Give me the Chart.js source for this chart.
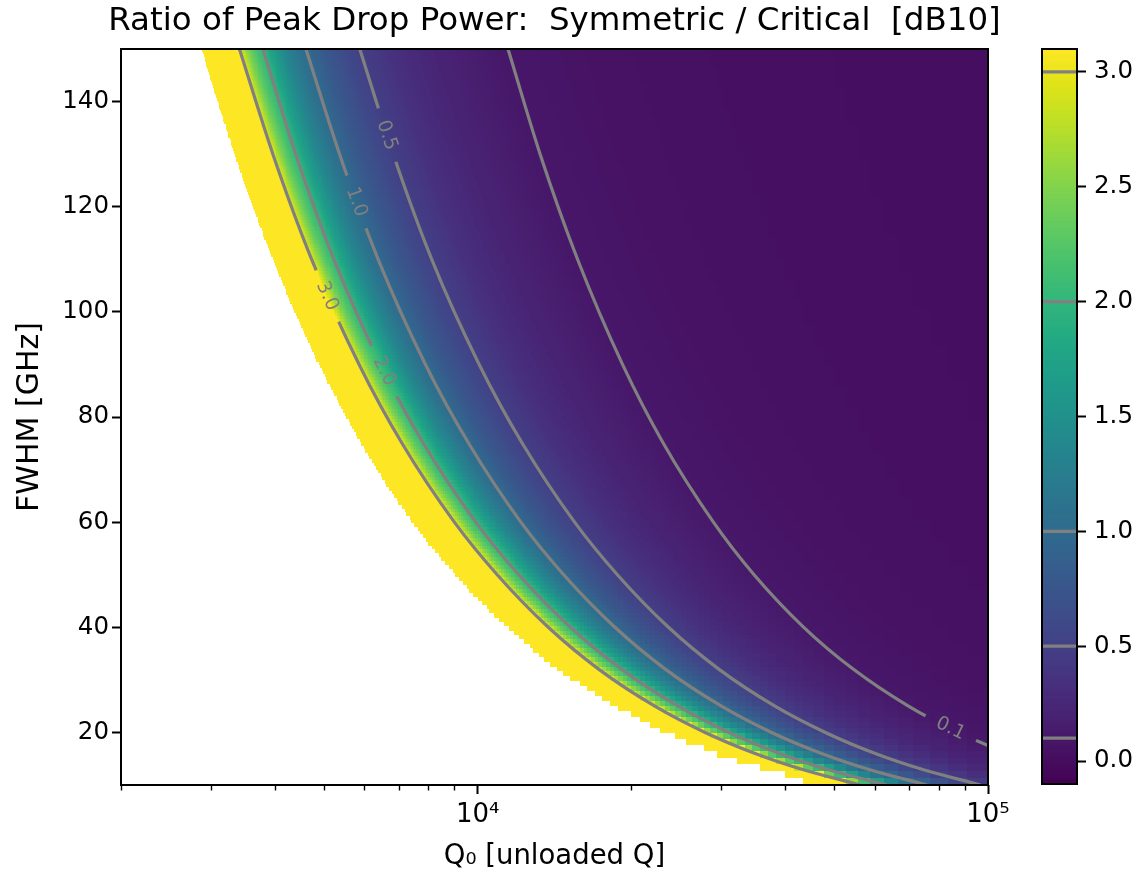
<!DOCTYPE html>
<html>
<head>
<meta charset="utf-8">
<script src="https://cdn.jsdelivr.net/npm/chart.js@4.4.1/dist/chart.umd.min.js"></script>
<style>
  body { margin: 0; background: #fff; }
  #wrap { position: relative; width: 1145px; height: 875px; }
  #main { position: absolute; left: 0; top: 0; }
  #cbar { position: absolute; left: 1000px; top: 0; }
</style>
</head>
<body>
<div id="wrap">
  <canvas id="main" width="1109" height="875"></canvas>
  <canvas id="cbar" width="145" height="875"></canvas>
</div>
<script>
const fwhmRows = [150, 130, 110, 90, 75, 60, 50, 40, 32, 25, 20, 16, 13, 10];

// Q0 where the data starts (white -> yellow edge)
const edgeQ = [2880, 3338, 3968, 4889, 5907, 7450, 9040, 11425, 14406, 18580, 23400, 29438, 36385, 47600];

// contour lines, Q0 per FWHM row
const q30 = [3413, 3969, 4727, 5856, 7107, 9000, 10920, 13750, 17281, 22240, 27900, 34969, 43154, 56200];
const q20 = [3793, 4400, 5227, 6456, 7827, 9917, 12040, 15200, 19156, 24720, 31100, 39063, 48308, 63200];
const q10 = [4607, 5362, 6382, 7900, 9600, 12150, 14740, 18575, 23344, 30040, 37650, 47188, 58231, 75900];
const q05 = [5873, 6831, 8127, 10067, 12227, 15483, 18780, 23650, 29719, 38240, 48000, 60125, 74231, 96700];
const q01 = [11467, 13254, 15691, 19222, 23107, 28967, 34800, 43550, 54500, 69840, 87400, 109375, 134692, 175200];

const contourLevels = [3.0, 2.0, 1.0, 0.5, 0.1];
const contourQ = [q30, q20, q10, q05, q01];
const labelText = ['3.0', '2.0', '1.0', '0.5', '0.1'];
const labelF = [103.0, 88.7, 120.9, 133.6, 20.7];

// ratio [dB] across a row, vs. decades of Q0 right of the 3.0 contour
const profD = [0.000, 0.006, 0.014, 0.024, 0.034, 0.046, 0.062, 0.085, 0.108, 0.130, 0.165, 0.200, 0.236, 0.300, 0.380, 0.510, 0.700, 1.000, 1.400];
const profV = [3.00, 2.80, 2.55, 2.32, 2.15, 2.00, 1.72, 1.40, 1.17, 1.00, 0.79, 0.63, 0.50, 0.34, 0.22, 0.10, 0.05, 0.025, 0.01];

const xTicks = [2000, 3000, 4000, 5000, 6000, 7000, 8000, 9000, 10000,
                20000, 30000, 40000, 50000, 60000, 70000, 80000, 90000, 100000];
const xMajor = [10000, 100000];
const yTicks = [20, 40, 60, 80, 100, 120, 140];
const cbTicks = [0.0, 0.5, 1.0, 1.5, 2.0, 2.5, 3.0];
const cbMin = -0.1, cbMax = 3.1;

const viridis = ['#440154', '#471365', '#482475', '#463480', '#414487', '#3b528b', '#355f8d',
                 '#2f6c8e', '#2a788e', '#25848e', '#21918c', '#1e9c89', '#22a884', '#2fb47c',
                 '#44bf70', '#5ec962', '#7ad151', '#9bd93c', '#bddf26', '#dfe318', '#fde725'];
const lineGray = '#808080';
const nCols = 490, nRows = 216, rowPow = 1.4;
const tickFont = 24.5;

Chart.defaults.font.family = "'DejaVu Sans', sans-serif";
Chart.defaults.color = '#000';

function hexRgb(h) {
    return [parseInt(h.slice(1, 3), 16), parseInt(h.slice(3, 5), 16), parseInt(h.slice(5, 7), 16)];
}

const lut = [];
for (let i = 0; i < 256; i++) {
    const p = i / 255 * (viridis.length - 1);
    const k = Math.min(Math.floor(p), viridis.length - 2);
    const f = p - k;
    const a = hexRgb(viridis[k]), b = hexRgb(viridis[k + 1]);
    lut.push('rgb(' + a.map((v, j) => Math.round(v + (b[j] - v) * f)).join(',') + ')');
}

function lutIndex(v) {
    let t = (v - cbMin) / (cbMax - cbMin);
    t = Math.max(0, Math.min(1, t));
    return Math.round(t * 255);
}

function curveLogQ(qArr, f) {
    const lf = Math.log10(f);
    let i = 0;
    while (i < fwhmRows.length - 2 && f < fwhmRows[i + 1]) i++;
    const a = Math.log10(fwhmRows[i]), b = Math.log10(fwhmRows[i + 1]);
    const t = (lf - a) / (b - a);
    return Math.log10(qArr[i]) + t * (Math.log10(qArr[i + 1]) - Math.log10(qArr[i]));
}

function profileValue(d) {
    if (d <= profD[0]) return cbMax + 0.1;
    for (let i = 1; i < profD.length; i++) {
        if (d <= profD[i]) {
            const t = (d - profD[i - 1]) / (profD[i] - profD[i - 1]);
            return profV[i - 1] + t * (profV[i] - profV[i - 1]);
        }
    }
    return profV[profV.length - 1];
}

const labelFont = '19px "DejaVu Sans"';

function labelBoxes(chart) {
    const {x, y} = chart.scales;
    chart.ctx.font = labelFont;
    return labelText.map((txt, i) => {
        const f = labelF[i];
        const q = Math.pow(10, curveLogQ(contourQ[i], f));
        const q1 = Math.pow(10, curveLogQ(contourQ[i], f + 2));
        const q2 = Math.pow(10, curveLogQ(contourQ[i], f - 2));
        const ang = Math.atan2(y.getPixelForValue(f - 2) - y.getPixelForValue(f + 2),
                               x.getPixelForValue(q2) - x.getPixelForValue(q1));
        return {
            txt, ang,
            cx: x.getPixelForValue(q), cy: y.getPixelForValue(f),
            len: chart.ctx.measureText(txt).width + 26
        };
    });
}

const heatmapPlugin = {
    id: 'heatmap',
    beforeDatasetsDraw(chart) {
        const {ctx, chartArea: a, scales: {x, y}} = chart;
        ctx.save();
        ctx.beginPath();
        ctx.rect(a.left, a.top, a.right - a.left, a.bottom - a.top);
        ctx.clip();

        const invA = 1 / x.min, invB = 1 / x.max;
        const colPx = [], colLog = [];
        for (let c = 0; c <= nCols; c++) {
            colPx.push(Math.round(x.getPixelForValue(1 / (invA + (invB - invA) * c / nCols))));
        }
        for (let c = 0; c < nCols; c++) {
            colLog.push(Math.log10(1 / (invA + (invB - invA) * (c + 0.5) / nCols)));
        }
        const u0 = Math.pow(y.min, rowPow), u1 = Math.pow(y.max, rowPow);
        for (let r = 0; r < nRows; r++) {
            const fLo = Math.pow(u0 + (u1 - u0) * r / nRows, 1 / rowPow);
            const fHi = Math.pow(u0 + (u1 - u0) * (r + 1) / nRows, 1 / rowPow);
            const fc = Math.pow(u0 + (u1 - u0) * (r + 0.5) / nRows, 1 / rowPow);
            const yTop = Math.round(y.getPixelForValue(fHi));
            const yBot = Math.round(y.getPixelForValue(fLo));
            if (yBot <= yTop) continue;
            const e = curveLogQ(edgeQ, fc), c3 = curveLogQ(q30, fc);
            let runStart = 0, runIdx = -1;
            for (let c = 0; c <= nCols; c++) {
                let idx = -1;
                if (c < nCols && colLog[c] >= e) idx = lutIndex(profileValue(colLog[c] - c3));
                if (idx !== runIdx) {
                    if (runIdx >= 0) {
                        ctx.fillStyle = lut[runIdx];
                        ctx.fillRect(colPx[runStart], yTop, colPx[c] - colPx[runStart], yBot - yTop);
                    }
                    runStart = c;
                    runIdx = idx;
                }
            }
        }
        ctx.restore();

        // cut gaps in the contour lines where the labels go
        ctx.save();
        ctx.beginPath();
        ctx.rect(0, 0, chart.width, chart.height);
        labelBoxes(chart).forEach(b => {
            const ux = Math.cos(b.ang), uy = Math.sin(b.ang);
            const hl = b.len / 2, hw = 7;
            ctx.moveTo(b.cx + ux * hl - uy * hw, b.cy + uy * hl + ux * hw);
            ctx.lineTo(b.cx + ux * hl + uy * hw, b.cy + uy * hl - ux * hw);
            ctx.lineTo(b.cx - ux * hl + uy * hw, b.cy - uy * hl - ux * hw);
            ctx.lineTo(b.cx - ux * hl - uy * hw, b.cy - uy * hl + ux * hw);
            ctx.closePath();
        });
        ctx.clip('evenodd');
    },
    afterDatasetsDraw(chart) {
        const ctx = chart.ctx;
        ctx.restore();
        labelBoxes(chart).forEach(b => {
            ctx.save();
            ctx.translate(b.cx, b.cy);
            ctx.rotate(b.ang);
            ctx.font = labelFont;
            ctx.fillStyle = lineGray;
            ctx.textAlign = 'center';
            ctx.textBaseline = 'middle';
            ctx.fillText(b.txt, 0, 0);
            ctx.restore();
        });
    },
    afterDraw(chart) {
        const {ctx, chartArea: a, scales: {x}} = chart;
        ctx.save();
        ctx.strokeStyle = '#000';
        ctx.lineWidth = 1.4;
        x.ticks.forEach(t => {
            if (t.major) return;
            const px = Math.round(x.getPixelForValue(t.value)) + 0.5;
            ctx.beginPath();
            ctx.moveTo(px, a.bottom);
            ctx.lineTo(px, a.bottom + 5.5);
            ctx.stroke();
        });
        ctx.lineWidth = 2;
        ctx.strokeRect(a.left, a.top, a.right - a.left, a.bottom - a.top);
        ctx.restore();
    }
};

new Chart(document.getElementById('main'), {
    type: 'scatter',
    data: {
        datasets: contourQ.map((qs, i) => ({
            label: labelText[i],
            data: fwhmRows.map((f, j) => ({x: qs[j], y: f})),
            showLine: true,
            borderColor: lineGray,
            borderWidth: 3.2,
            pointRadius: 0,
            cubicInterpolationMode: 'monotone'
        }))
    },
    options: {
        responsive: false,
        animation: false,
        events: [],
        devicePixelRatio: 1,
        layout: { padding: 0 },
        plugins: {
            legend: { display: false },
            tooltip: { enabled: false },
            title: {
                display: true,
                text: 'Ratio of Peak Drop Power:  Symmetric / Critical  [dB10]',
                color: '#000',
                font: { size: 32.5, weight: 'normal', lineHeight: 1.2 },
                padding: { top: 2, bottom: 8 }
            }
        },
        scales: {
            x: {
                type: 'logarithmic',
                min: 2000,
                max: 100000,
                afterBuildTicks: s => { s.ticks = xTicks.map(v => ({value: v, major: xMajor.includes(v)})); },
                afterFit: s => { s.height = 90; },
                border: { display: false },
                grid: {
                    drawOnChartArea: false,
                    tickLength: 9,
                    tickWidth: 2,
                    tickColor: c => (c.tick && c.tick.major) ? '#000' : 'rgba(0,0,0,0)'
                },
                ticks: {
                    autoSkip: false,
                    maxRotation: 0,
                    padding: 6,
                    color: '#000',
                    font: { size: 26 },
                    callback: v => v === 10000 ? '10⁴' : (v === 100000 ? '10⁵' : '')
                },
                title: {
                    display: true,
                    text: 'Q₀ [unloaded Q]',
                    color: '#000',
                    font: { size: 27.5 },
                    padding: { top: 0, bottom: 2 }
                }
            },
            y: {
                type: 'linear',
                min: 10,
                max: 150,
                afterBuildTicks: s => { s.ticks = yTicks.map(v => ({value: v})); },
                afterFit: s => { s.width = 121; },
                border: { display: false },
                grid: { drawOnChartArea: false, tickLength: 9, tickWidth: 2, tickColor: '#000' },
                ticks: { padding: 3, color: '#000', font: { size: tickFont } },
                title: {
                    display: true,
                    text: 'FWHM [GHz]',
                    color: '#000',
                    font: { size: 30 },
                    padding: { top: 12, bottom: 0 }
                }
            },
            // empty strip on the right, keeps the title centred over the plot
            yPad: {
                type: 'linear',
                position: 'right',
                afterFit: s => { s.width = 121; },
                border: { display: false },
                grid: { display: false },
                ticks: { display: false }
            }
        }
    },
    plugins: [heatmapPlugin]
});

const cbarPlugin = {
    id: 'cbarFill',
    beforeDatasetsDraw(chart) {
        const {ctx, chartArea: a, scales: {y}} = chart;
        const n = 320;
        const edge = k => Math.round(y.getPixelForValue(cbMin + (cbMax - cbMin) * k / n));
        for (let k = 0; k < n; k++) {
            const yTop = edge(k + 1), yBot = edge(k);
            if (yBot <= yTop) continue;
            ctx.fillStyle = lut[lutIndex(cbMin + (cbMax - cbMin) * (k + 0.5) / n)];
            ctx.fillRect(a.left, yTop, a.right - a.left, yBot - yTop);
        }
    },
    afterDraw(chart) {
        const {ctx, chartArea: a} = chart;
        ctx.save();
        ctx.strokeStyle = '#000';
        ctx.lineWidth = 2;
        ctx.strokeRect(a.left, a.top, a.right - a.left, a.bottom - a.top);
        ctx.restore();
    }
};

new Chart(document.getElementById('cbar'), {
    type: 'scatter',
    data: {
        datasets: contourLevels.map(L => ({
            data: [{x: 0, y: L}, {x: 1, y: L}],
            showLine: true,
            borderColor: lineGray,
            borderWidth: 3.2,
            pointRadius: 0
        }))
    },
    options: {
        responsive: false,
        animation: false,
        events: [],
        devicePixelRatio: 1,
        layout: { padding: { left: 42, right: 0, top: 49, bottom: 91 } },
        plugins: { legend: { display: false }, tooltip: { enabled: false } },
        scales: {
            x: { type: 'linear', min: 0, max: 1, display: false },
            y: {
                type: 'linear',
                position: 'right',
                min: cbMin,
                max: cbMax,
                afterBuildTicks: s => { s.ticks = cbTicks.map(v => ({value: v})); },
                afterFit: s => { s.width = 68; },
                border: { display: false },
                grid: { drawOnChartArea: false, tickLength: 9, tickWidth: 2, tickColor: '#000' },
                ticks: {
                    padding: 8,
                    color: '#000',
                    font: { size: tickFont },
                    callback: v => Number(v).toFixed(1)
                }
            }
        }
    },
    plugins: [cbarPlugin]
});
</script>
</body>
</html>
